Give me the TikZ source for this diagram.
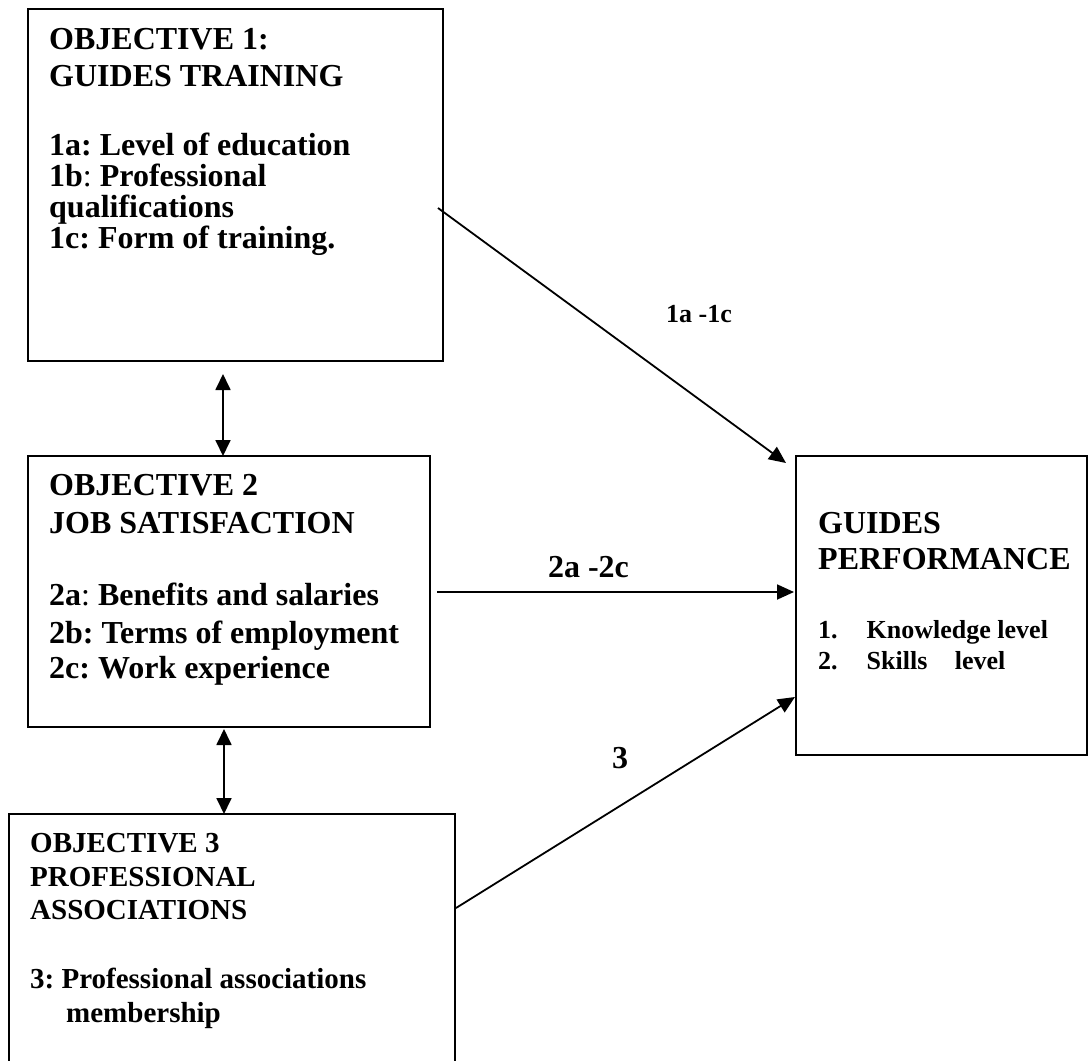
\documentclass[tikz,border=0pt]{standalone}
\usepackage{fontspec}
\setmainfont{Liberation Serif}
\usetikzlibrary{arrows.meta,calc}
\frenchspacing
\begin{document}
\begin{tikzpicture}[x=1pt,y=-1pt,
  box/.style={draw,line width=2pt,rectangle,inner sep=0pt,outer sep=0pt,anchor=north west},
  big/.style={anchor=base west,inner sep=0pt,font=\fontsize{32}{32}\selectfont\bfseries},
  mid/.style={anchor=base west,inner sep=0pt,font=\fontsize{29}{29}\selectfont\bfseries},
  small/.style={anchor=base west,inner sep=0pt,font=\fontsize{26}{26}\selectfont\bfseries},
  arr/.style={line width=1.8pt,-{Triangle[length=17pt,width=15pt]}},
  dbl/.style={line width=1.8pt,{Triangle[length=16pt,width=15pt]}-{Triangle[length=16pt,width=15pt]}}
]
\useasboundingbox (0,0) rectangle (1088,1061);
\clip (0,0) rectangle (1088,1061);

% boxes
\node[box,minimum width=415pt,minimum height=352pt] (o1) at (28,9) {};
\node[box,minimum width=402pt,minimum height=271pt] (o2) at (28,456) {};
\node[box,minimum width=446pt,minimum height=262pt] (o3) at (9,814) {};
\node[box,minimum width=291pt,minimum height=299pt] (o4) at (796,456) {};

% box 1 text
\node[big] (t11) at (49,49) {OBJECTIVE 1:};
\node[big] (t12) at (49,86) {GUIDES TRAINING};
\node[big] (t13) at (49,155) {1a: Level of education};
\node[big] (t14) at (49,186) {1b\textmd{:} Professional};
\node[big] (t15) at (49,217) {qualifications};
\node[big] (t16) at (49,248) {1c: Form of training.};

% box 2 text
\node[big] (t21) at (49,495) {OBJECTIVE 2};
\node[big] (t22) at (49,533) {JOB SATISFACTION};
\node[big] (t23) at (49,605) {2a\textmd{:} Benefits and salaries};
\node[big] (t24) at (49,643) {2b: Terms of employment};
\node[big] (t25) at (49,678) {2c: Work experience};

% box 3 text
\node[mid] (t31) at (30,852) {OBJECTIVE 3};
\node[mid] (t32) at (30,886) {PROFESSIONAL};
\node[mid] (t33) at (30,919) {ASSOCIATIONS};
\node[mid] (t34) at (30,988) {3: Professional associations};
\node[mid] (t35) at (66,1022) {membership};

% box 4 text
\node[big] (t41) at (818,533) {GUIDES};
\node[big] (t42) at (818,569) {PERFORMANCE};
\node[small] (t43) at (818,638) {1.};
\node[small] (t44) at (866.5,638) {Knowledge level};
\node[small] (t45) at (818,669) {2.};
\node[small] (t46) at (866.5,669) {Skills};
\node[small] (t47) at (954.7,669) {level};

% connectors
\coordinate (c1) at (223,0);
\coordinate (c2) at (224,0);
\coordinate (c3) at (0,592);
\draw[dbl,shorten <=13pt] (o1.south -| c1) -- (o2.north -| c1);
\draw[dbl,shorten <=2pt] (o2.south -| c2) -- (o3.north -| c2);
\draw[arr] ($(o1.north east)+(-5,199)$) -- ($(o4.north west)+(-10,7)$);
\draw[arr,shorten <=7pt,shorten >=2pt] (o2.east |- c3) -- (o4.west |- c3);
\draw[arr] ($(o3.north east)+(1,94)$) -- ($(o4.north west)+(-1,241)$);

% labels
\node[anchor=base,inner sep=0pt,font=\fontsize{26}{26}\selectfont\bfseries] (l1) at (699,322) {1a -1c};
\node[anchor=base,inner sep=0pt,font=\fontsize{32}{32}\selectfont\bfseries] (l2) at (588.5,577) {2a -2c};
\node[anchor=base,inner sep=0pt,font=\fontsize{32}{32}\selectfont\bfseries] (l3) at (620,768) {3};
\end{tikzpicture}
\end{document}
